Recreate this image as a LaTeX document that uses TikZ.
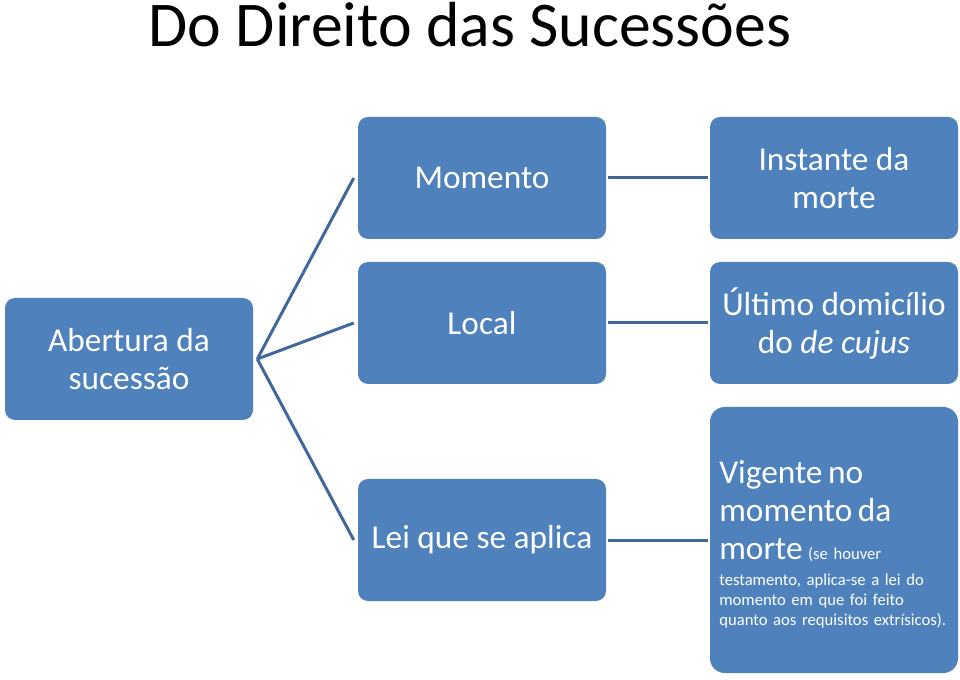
\documentclass[tikz,border=0pt]{standalone}
\usepackage{fontspec}
\setmainfont{Carlito}
\usepackage{xcolor}
\usepackage{tikz}
\definecolor{sucBlue}{HTML}{4F81BD}
\definecolor{linkBlue}{HTML}{41679B}
\newcommand{\boxfont}{\fontsize{25}{28.5}\selectfont}
\newcommand{\notefont}{\fontsize{12.5}{15}\selectfont\lineskiplimit=-100pt}
\tikzset{
  sucbox/.style={rectangle, rounded corners=7.5pt, fill=sucBlue, draw=none, text=white, align=center, font=\boxfont, minimum width=186pt, minimum height=91.5pt, inner sep=4pt},
  linkline/.style={draw=linkBlue, line width=2.25pt},
  titletext/.style={font=\fontsize{47.8}{54}\selectfont, text=black, inner sep=0pt},
}

\begin{document}
\begin{tikzpicture}[x=0.75pt,y=-0.75pt]
  \useasboundingbox (0,0) rectangle (960,680);

  % Title
  \node[titletext, anchor=base] (title) at (470, 47) {Do Direito das Sucessões};

  % Root
  \node[sucbox] (abert) at (129, 359) {Abertura da\\sucessão};

  % Middle column
  \node[sucbox] (mom) at (482, 178) {Momento};
  \node[sucbox] (loc) at (482, 323) {Local};
  \node[sucbox] (lei) at (482, 540) {Lei que se aplica};

  % Right column
  \node[sucbox] (inst) at (834, 178) {Instante da\\morte};
  \node[sucbox] (ult) at (834, 323) {Último domicílio\\do \textit{de cujus}};
  \node[sucbox, rounded corners=11pt, minimum height=199.5pt, text width=172pt, align=left, inner xsep=7pt, font=\notefont] (vig) at (834, 540)
    {{\boxfont\rule{0pt}{23.5pt}Vigente no}\\[13.5pt]{\boxfont momento da}\\[13.5pt]{\boxfont morte} (se houver\\[4.5pt]testamento, aplica-se a lei do\\momento em que foi feito\\quanto aos requisitos extrísicos).};

  % Connectors
  \draw[linkline] ([xshift=3pt]abert.east) -- ([xshift=-3pt]mom.west);
  \draw[linkline] ([xshift=3pt]abert.east) -- ([xshift=-3pt]loc.west);
  \draw[linkline] ([xshift=3pt]abert.east) -- ([xshift=-3pt]lei.west);
  \draw[linkline] ([xshift=1.5pt]mom.east) -- ([xshift=-1.5pt]inst.west);
  \draw[linkline] ([xshift=1.5pt]loc.east) -- ([xshift=-1.5pt]ult.west);
  \draw[linkline] ([xshift=1.5pt]lei.east) -- ([xshift=-1.5pt]vig.west);
\end{tikzpicture}
\end{document}
